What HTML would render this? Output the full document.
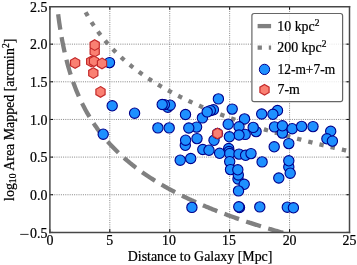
<!DOCTYPE html>
<html><head><meta charset="utf-8"><style>
html,body{margin:0;padding:0;background:#fff;overflow:hidden;width:357px;height:265px;}
svg{display:block;will-change:transform;}
text{font-family:"Liberation Serif",serif;fill:#000;stroke:#000;stroke-width:0.22px;}
</style></head><body>
<svg width="357" height="265" viewBox="0 0 357 265">
<rect width="357" height="265" fill="#fff"/>
<defs><clipPath id="ax"><rect x="49.9" y="6.5" width="299.60" height="225.90"/></clipPath></defs>
<g stroke="#858585" stroke-width="1.0" stroke-dasharray="1 1.2">
<line x1="109.82" y1="6.50" x2="109.82" y2="232.40"/>
<line x1="169.74" y1="6.50" x2="169.74" y2="232.40"/>
<line x1="229.66" y1="6.50" x2="229.66" y2="232.40"/>
<line x1="289.58" y1="6.50" x2="289.58" y2="232.40"/>
<line x1="49.90" y1="44.15" x2="349.50" y2="44.15"/>
<line x1="49.90" y1="81.80" x2="349.50" y2="81.80"/>
<line x1="49.90" y1="119.45" x2="349.50" y2="119.45"/>
<line x1="49.90" y1="157.10" x2="349.50" y2="157.10"/>
<line x1="49.90" y1="194.75" x2="349.50" y2="194.75"/>
</g>
<g clip-path="url(#ax)" fill="none" stroke="#808080" stroke-width="4.3">
<path d="M57.01,4.51 L57.75,11.04 L58.50,16.98 L59.24,22.42 L59.99,27.44 L60.74,32.11 L61.48,36.47 L62.23,40.55 L62.98,44.39 L63.72,48.02 L64.47,51.46 L65.21,54.73 L65.96,57.84 L66.71,60.81 L67.45,63.65 L68.20,66.38 L68.95,68.99 L69.69,71.50 L70.44,73.92 L71.18,76.26 L71.93,78.51 L72.68,80.69 L73.42,82.80 L74.17,84.84 L74.92,86.82 L75.66,88.75 L76.41,90.61 L77.15,92.43 L77.90,94.20 L78.65,95.92 L79.39,97.59 L80.14,99.23 L80.88,100.82 L81.63,102.38 L82.38,103.90 L83.12,105.38 L83.87,106.84 L84.62,108.26 L85.36,109.65 L86.11,111.01 L86.85,112.34 L87.60,113.65 L88.35,114.93 L89.09,116.19 L89.84,117.42 L90.59,118.64 L91.33,119.82 L92.08,120.99 L92.82,122.14 L93.57,123.27 L94.32,124.37 L95.06,125.46 L95.81,126.54 L96.56,127.59 L97.30,128.63 L98.05,129.65 L98.79,130.66 L99.54,131.65 L100.29,132.62 L101.03,133.58 L101.78,134.53 L102.53,135.46 L103.27,136.39 L104.02,137.29 L104.76,138.19 L105.51,139.07 L106.26,139.95 L107.00,140.81 L107.75,141.65 L108.49,142.49 L109.24,143.32 L109.99,144.14 L110.73,144.95 L111.48,145.74 L112.23,146.53 L112.97,147.31 L113.72,148.08 L114.46,148.84 L115.21,149.59 L115.96,150.33 L116.70,151.07 L117.45,151.79 L118.20,152.51 L118.94,153.22 L119.69,153.93 L120.43,154.62 L121.18,155.31 L121.93,155.99 L122.67,156.67 L123.42,157.33 L124.17,157.99 L124.91,158.65 L125.66,159.30 L126.40,159.94 L127.15,160.57 L127.90,161.20 L128.64,161.82 L129.39,162.44 L130.14,163.05 L130.88,163.66 L131.63,164.26 L132.37,164.85 L133.12,165.44 L133.87,166.02 L134.61,166.60 L135.36,167.18 L136.10,167.74 L136.85,168.31 L137.60,168.87 L138.34,169.42 L139.09,169.97 L139.84,170.52 L140.58,171.06 L141.33,171.59 L142.07,172.12 L142.82,172.65 L143.57,173.17 L144.31,173.69 L145.06,174.21 L145.81,174.72 L146.55,175.23 L147.30,175.73 L148.04,176.23 L148.79,176.72 L149.54,177.22 L150.28,177.70 L151.03,178.19 L151.78,178.67 L152.52,179.15 L153.27,179.62 L154.01,180.09 L154.76,180.56 L155.51,181.02 L156.25,181.48 L157.00,181.94 L157.75,182.39 L158.49,182.84 L159.24,183.29 L159.98,183.74 L160.73,184.18 L161.48,184.62 L162.22,185.05 L162.97,185.49 L163.71,185.92 L164.46,186.34 L165.21,186.77 L165.95,187.19 L166.70,187.61 L167.45,188.03 L168.19,188.44 L168.94,188.85 L169.68,189.26 L170.43,189.67 L171.18,190.07 L171.92,190.47 L172.67,190.87 L173.42,191.27 L174.16,191.66 L174.91,192.05 L175.65,192.44 L176.40,192.83 L177.15,193.21 L177.89,193.60 L178.64,193.98 L179.39,194.35 L180.13,194.73 L180.88,195.10 L181.62,195.47 L182.37,195.84 L183.12,196.21 L183.86,196.58 L184.61,196.94 L185.35,197.30 L186.10,197.66 L186.85,198.02 L187.59,198.37 L188.34,198.73 L189.09,199.08 L189.83,199.43 L190.58,199.78 L191.32,200.12 L192.07,200.47 L192.82,200.81 L193.56,201.15 L194.31,201.49 L195.06,201.83 L195.80,202.16 L196.55,202.49 L197.29,202.83 L198.04,203.16 L198.79,203.49 L199.53,203.81 L200.28,204.14 L201.03,204.46 L201.77,204.78 L202.52,205.10 L203.26,205.42 L204.01,205.74 L204.76,206.06 L205.50,206.37 L206.25,206.68 L207.00,207.00 L207.74,207.31 L208.49,207.61 L209.23,207.92 L209.98,208.23 L210.73,208.53 L211.47,208.83 L212.22,209.13 L212.96,209.43 L213.71,209.73 L214.46,210.03 L215.20,210.33 L215.95,210.62 L216.70,210.91 L217.44,211.21 L218.19,211.50 L218.93,211.79 L219.68,212.07 L220.43,212.36 L221.17,212.65 L221.92,212.93 L222.67,213.21 L223.41,213.50 L224.16,213.78 L224.90,214.06 L225.65,214.33 L226.40,214.61 L227.14,214.89 L227.89,215.16 L228.64,215.44 L229.38,215.71 L230.13,215.98 L230.87,216.25 L231.62,216.52 L232.37,216.79 L233.11,217.05 L233.86,217.32 L234.61,217.59 L235.35,217.85 L236.10,218.11 L236.84,218.37 L237.59,218.63 L238.34,218.89 L239.08,219.15 L239.83,219.41 L240.57,219.67 L241.32,219.92 L242.07,220.18 L242.81,220.43 L243.56,220.68 L244.31,220.93 L245.05,221.18 L245.80,221.43 L246.54,221.68 L247.29,221.93 L248.04,222.18 L248.78,222.42 L249.53,222.67 L250.28,222.91 L251.02,223.15 L251.77,223.40 L252.51,223.64 L253.26,223.88 L254.01,224.12 L254.75,224.36 L255.50,224.59 L256.25,224.83 L256.99,225.07 L257.74,225.30 L258.48,225.54 L259.23,225.77 L259.98,226.00 L260.72,226.24 L261.47,226.47 L262.22,226.70 L262.96,226.93 L263.71,227.15 L264.45,227.38 L265.20,227.61 L265.95,227.84 L266.69,228.06 L267.44,228.29 L268.18,228.51 L268.93,228.73 L269.68,228.96 L270.42,229.18 L271.17,229.40 L271.92,229.62 L272.66,229.84 L273.41,230.06 L274.15,230.27 L274.90,230.49 L275.65,230.71 L276.39,230.92 L277.14,231.14 L277.89,231.35 L278.63,231.57 L279.38,231.78 L280.12,231.99 L280.87,232.20 L281.62,232.42 L282.36,232.63 L283.11,232.84 L283.86,233.04 L284.60,233.25 L285.35,233.46 L286.09,233.67 L286.84,233.87 L287.59,234.08 L288.33,234.28 L289.08,234.49 L289.83,234.69 L290.57,234.90 L291.32,235.10 L292.06,235.30 L292.81,235.50 L293.56,235.70 L294.30,235.90 L295.05,236.10 L295.79,236.30 L296.54,236.50 L297.29,236.70 L298.03,236.89 L298.78,237.09 L299.53,237.29 L300.27,237.48 L301.02,237.68 L301.76,237.87 L302.51,238.06 L303.26,238.26 L304.00,238.45 L304.75,238.64 L305.50,238.83 L306.24,239.02 L306.99,239.21 L307.73,239.40 L308.48,239.59 L309.23,239.78 L309.97,239.97 L310.72,240.15 L311.47,240.34 L312.21,240.53 L312.96,240.71 L313.70,240.90 L314.45,241.08 L315.20,241.27 L315.94,241.45 L316.69,241.63 L317.44,241.82 L318.18,242.00 L318.93,242.18 L319.67,242.36 L320.42,242.54 L321.17,242.72 L321.91,242.90 L322.66,243.08 L323.40,243.26 L324.15,243.44 L324.90,243.62 L325.64,243.79 L326.39,243.97 L327.14,244.15 L327.88,244.32 L328.63,244.50 L329.37,244.67 L330.12,244.85 L330.87,245.02 L331.61,245.19 L332.36,245.37 L333.11,245.54 L333.85,245.71 L334.60,245.88 L335.34,246.05 L336.09,246.23 L336.84,246.40 L337.58,246.57 L338.33,246.74 L339.08,246.90 L339.82,247.07 L340.57,247.24 L341.31,247.41 L342.06,247.58 L342.81,247.74 L343.55,247.91 L344.30,248.08 L345.04,248.24 L345.79,248.41 L346.54,248.57 L347.28,248.73 L348.03,248.90 L348.78,249.06 L349.52,249.23 L350.27,249.39 L351.01,249.55 L351.76,249.71 L352.51,249.87 L353.25,250.03 L354.00,250.20 L354.75,250.36 L355.49,250.52" stroke-dasharray="15.5 7.62" stroke-dashoffset="13.25"/>
<path d="M81.68,4.51 L82.37,5.90 L83.05,7.27 L83.74,8.60 L84.42,9.91 L85.10,11.20 L85.79,12.46 L86.47,13.69 L87.16,14.91 L87.84,16.10 L88.53,17.27 L89.21,18.41 L89.90,19.54 L90.58,20.65 L91.26,21.75 L91.95,22.82 L92.63,23.87 L93.32,24.91 L94.00,25.94 L94.69,26.94 L95.37,27.94 L96.06,28.91 L96.74,29.88 L97.43,30.83 L98.11,31.76 L98.79,32.68 L99.48,33.59 L100.16,34.49 L100.85,35.37 L101.53,36.25 L102.22,37.11 L102.90,37.96 L103.59,38.80 L104.27,39.63 L104.96,40.44 L105.64,41.25 L106.32,42.05 L107.01,42.84 L107.69,43.62 L108.38,44.39 L109.06,45.15 L109.75,45.90 L110.43,46.65 L111.12,47.38 L111.80,48.11 L112.49,48.83 L113.17,49.54 L113.85,50.24 L114.54,50.94 L115.22,51.63 L115.91,52.31 L116.59,52.99 L117.28,53.65 L117.96,54.32 L118.65,54.97 L119.33,55.62 L120.01,56.26 L120.70,56.89 L121.38,57.52 L122.07,58.15 L122.75,58.77 L123.44,59.38 L124.12,59.98 L124.81,60.58 L125.49,61.18 L126.18,61.77 L126.86,62.35 L127.54,62.93 L128.23,63.51 L128.91,64.07 L129.60,64.64 L130.28,65.20 L130.97,65.75 L131.65,66.30 L132.34,66.85 L133.02,67.39 L133.71,67.93 L134.39,68.46 L135.07,68.99 L135.76,69.51 L136.44,70.03 L137.13,70.54 L137.81,71.05 L138.50,71.56 L139.18,72.07 L139.87,72.56 L140.55,73.06 L141.24,73.55 L141.92,74.04 L142.60,74.53 L143.29,75.01 L143.97,75.48 L144.66,75.96 L145.34,76.43 L146.03,76.90 L146.71,77.36 L147.40,77.82 L148.08,78.28 L148.77,78.73 L149.45,79.19 L150.13,79.63 L150.82,80.08 L151.50,80.52 L152.19,80.96 L152.87,81.40 L153.56,81.83 L154.24,82.26 L154.93,82.69 L155.61,83.11 L156.29,83.53 L156.98,83.95 L157.66,84.37 L158.35,84.79 L159.03,85.20 L159.72,85.61 L160.40,86.01 L161.09,86.42 L161.77,86.82 L162.46,87.22 L163.14,87.61 L163.82,88.01 L164.51,88.40 L165.19,88.79 L165.88,89.18 L166.56,89.56 L167.25,89.94 L167.93,90.32 L168.62,90.70 L169.30,91.08 L169.99,91.45 L170.67,91.82 L171.35,92.19 L172.04,92.56 L172.72,92.93 L173.41,93.29 L174.09,93.65 L174.78,94.01 L175.46,94.37 L176.15,94.72 L176.83,95.08 L177.52,95.43 L178.20,95.78 L178.88,96.13 L179.57,96.47 L180.25,96.82 L180.94,97.16 L181.62,97.50 L182.31,97.84 L182.99,98.18 L183.68,98.51 L184.36,98.85 L185.04,99.18 L185.73,99.51 L186.41,99.84 L187.10,100.17 L187.78,100.49 L188.47,100.81 L189.15,101.14 L189.84,101.46 L190.52,101.78 L191.21,102.09 L191.89,102.41 L192.57,102.73 L193.26,103.04 L193.94,103.35 L194.63,103.66 L195.31,103.97 L196.00,104.28 L196.68,104.58 L197.37,104.89 L198.05,105.19 L198.74,105.49 L199.42,105.79 L200.10,106.09 L200.79,106.39 L201.47,106.68 L202.16,106.98 L202.84,107.27 L203.53,107.56 L204.21,107.85 L204.90,108.14 L205.58,108.43 L206.27,108.72 L206.95,109.00 L207.63,109.29 L208.32,109.57 L209.00,109.85 L209.69,110.13 L210.37,110.41 L211.06,110.69 L211.74,110.97 L212.43,111.25 L213.11,111.52 L213.80,111.79 L214.48,112.07 L215.16,112.34 L215.85,112.61 L216.53,112.88 L217.22,113.15 L217.90,113.41 L218.59,113.68 L219.27,113.94 L219.96,114.21 L220.64,114.47 L221.32,114.73 L222.01,114.99 L222.69,115.25 L223.38,115.51 L224.06,115.77 L224.75,116.02 L225.43,116.28 L226.12,116.54 L226.80,116.79 L227.49,117.04 L228.17,117.29 L228.85,117.54 L229.54,117.79 L230.22,118.04 L230.91,118.29 L231.59,118.54 L232.28,118.78 L232.96,119.03 L233.65,119.27 L234.33,119.52 L235.02,119.76 L235.70,120.00 L236.38,120.24 L237.07,120.48 L237.75,120.72 L238.44,120.96 L239.12,121.19 L239.81,121.43 L240.49,121.66 L241.18,121.90 L241.86,122.13 L242.55,122.37 L243.23,122.60 L243.91,122.83 L244.60,123.06 L245.28,123.29 L245.97,123.52 L246.65,123.74 L247.34,123.97 L248.02,124.20 L248.71,124.42 L249.39,124.65 L250.07,124.87 L250.76,125.10 L251.44,125.32 L252.13,125.54 L252.81,125.76 L253.50,125.98 L254.18,126.20 L254.87,126.42 L255.55,126.64 L256.24,126.86 L256.92,127.07 L257.60,127.29 L258.29,127.50 L258.97,127.72 L259.66,127.93 L260.34,128.14 L261.03,128.36 L261.71,128.57 L262.40,128.78 L263.08,128.99 L263.77,129.20 L264.45,129.41 L265.13,129.62 L265.82,129.82 L266.50,130.03 L267.19,130.24 L267.87,130.44 L268.56,130.65 L269.24,130.85 L269.93,131.06 L270.61,131.26 L271.30,131.46 L271.98,131.66 L272.66,131.87 L273.35,132.07 L274.03,132.27 L274.72,132.47 L275.40,132.67 L276.09,132.86 L276.77,133.06 L277.46,133.26 L278.14,133.45 L278.83,133.65 L279.51,133.85 L280.19,134.04 L280.88,134.23 L281.56,134.43 L282.25,134.62 L282.93,134.81 L283.62,135.01 L284.30,135.20 L284.99,135.39 L285.67,135.58 L286.35,135.77 L287.04,135.96 L287.72,136.14 L288.41,136.33 L289.09,136.52 L289.78,136.71 L290.46,136.89 L291.15,137.08 L291.83,137.26 L292.52,137.45 L293.20,137.63 L293.88,137.82 L294.57,138.00 L295.25,138.18 L295.94,138.37 L296.62,138.55 L297.31,138.73 L297.99,138.91 L298.68,139.09 L299.36,139.27 L300.05,139.45 L300.73,139.63 L301.41,139.81 L302.10,139.98 L302.78,140.16 L303.47,140.34 L304.15,140.51 L304.84,140.69 L305.52,140.86 L306.21,141.04 L306.89,141.21 L307.58,141.39 L308.26,141.56 L308.94,141.73 L309.63,141.91 L310.31,142.08 L311.00,142.25 L311.68,142.42 L312.37,142.59 L313.05,142.76 L313.74,142.93 L314.42,143.10 L315.10,143.27 L315.79,143.44 L316.47,143.61 L317.16,143.78 L317.84,143.94 L318.53,144.11 L319.21,144.28 L319.90,144.44 L320.58,144.61 L321.27,144.77 L321.95,144.94 L322.63,145.10 L323.32,145.27 L324.00,145.43 L324.69,145.59 L325.37,145.76 L326.06,145.92 L326.74,146.08 L327.43,146.24 L328.11,146.40 L328.80,146.56 L329.48,146.72 L330.16,146.88 L330.85,147.04 L331.53,147.20 L332.22,147.36 L332.90,147.52 L333.59,147.68 L334.27,147.84 L334.96,147.99 L335.64,148.15 L336.33,148.31 L337.01,148.46 L337.69,148.62 L338.38,148.77 L339.06,148.93 L339.75,149.08 L340.43,149.24 L341.12,149.39 L341.80,149.55 L342.49,149.70 L343.17,149.85 L343.86,150.00 L344.54,150.16 L345.22,150.31 L345.91,150.46 L346.59,150.61 L347.28,150.76 L347.96,150.91 L348.65,151.06 L349.33,151.21 L350.02,151.36 L350.70,151.51 L351.38,151.66 L352.07,151.81 L352.75,151.95 L353.44,152.10 L354.12,152.25 L354.81,152.40 L355.49,152.54" stroke-dasharray="4.35 7.166" stroke-dashoffset="2.876"/>
</g>
<g clip-path="url(#ax)">
<g fill="#1e90ff" stroke="#00008b" stroke-width="1.1">
<circle cx="109.5" cy="62.6" r="5.15"/>
<circle cx="112.2" cy="105.8" r="5.15"/>
<circle cx="134.6" cy="113.2" r="5.15"/>
<circle cx="103.2" cy="134.2" r="5.15"/>
<circle cx="157.9" cy="127.9" r="5.15"/>
<circle cx="169.2" cy="127.9" r="5.15"/>
<circle cx="167.8" cy="107.2" r="5.15"/>
<circle cx="170.2" cy="105.2" r="5.15"/>
<circle cx="164.4" cy="104.6" r="5.15"/>
<circle cx="162.2" cy="104.5" r="5.15"/>
<circle cx="185.5" cy="114.5" r="5.15"/>
<circle cx="196.6" cy="127.1" r="5.15"/>
<circle cx="188.8" cy="128.0" r="5.15"/>
<circle cx="202.4" cy="117.9" r="5.15"/>
<circle cx="213.4" cy="109.8" r="5.15"/>
<circle cx="210.3" cy="110.6" r="5.15"/>
<circle cx="207.2" cy="111.9" r="5.15"/>
<circle cx="218.4" cy="98.9" r="5.15"/>
<circle cx="232.2" cy="109.1" r="5.15"/>
<circle cx="244.5" cy="118.9" r="5.15"/>
<circle cx="228.2" cy="124.2" r="5.15"/>
<circle cx="239" cy="126.8" r="5.15"/>
<circle cx="256.1" cy="131.6" r="5.15"/>
<circle cx="253.2" cy="127.4" r="5.15"/>
<circle cx="261.7" cy="114" r="5.15"/>
<circle cx="277.5" cy="110.5" r="5.15"/>
<circle cx="272.9" cy="114.3" r="5.15"/>
<circle cx="274.5" cy="126.9" r="5.15"/>
<circle cx="282.4" cy="133.1" r="5.15"/>
<circle cx="282.4" cy="125.8" r="5.15"/>
<circle cx="292.2" cy="128.7" r="5.15"/>
<circle cx="301.6" cy="126.4" r="5.15"/>
<circle cx="313" cy="126.6" r="5.15"/>
<circle cx="330.7" cy="131.3" r="5.15"/>
<circle cx="326.9" cy="138.8" r="5.15"/>
<circle cx="332.4" cy="141.1" r="5.15"/>
<circle cx="288.8" cy="143.6" r="5.15"/>
<circle cx="274.2" cy="146.8" r="5.15"/>
<circle cx="262.1" cy="161.9" r="5.15"/>
<circle cx="288.8" cy="167" r="5.15"/>
<circle cx="288.8" cy="160.8" r="5.15"/>
<circle cx="290.2" cy="173.2" r="5.15"/>
<circle cx="278.8" cy="178.0" r="5.15"/>
<circle cx="245.2" cy="134.4" r="5.15"/>
<circle cx="239" cy="135" r="5.15"/>
<circle cx="229.4" cy="136.8" r="5.15"/>
<circle cx="228.7" cy="148.5" r="5.15"/>
<circle cx="229" cy="151.5" r="5.15"/>
<circle cx="229.7" cy="153.5" r="5.15"/>
<circle cx="219.6" cy="153.3" r="5.15"/>
<circle cx="239" cy="154.1" r="5.15"/>
<circle cx="245.6" cy="155.3" r="5.15"/>
<circle cx="251" cy="153.6" r="5.15"/>
<circle cx="229.7" cy="161.6" r="5.15"/>
<circle cx="230.5" cy="169.6" r="5.15"/>
<circle cx="238" cy="179.0" r="5.15"/>
<circle cx="238.3" cy="175.0" r="5.15"/>
<circle cx="237.8" cy="169.8" r="5.15"/>
<circle cx="244.2" cy="184.3" r="5.15"/>
<circle cx="238.5" cy="190.9" r="5.15"/>
<circle cx="239.5" cy="207.5" r="5.15"/>
<circle cx="238.8" cy="206.8" r="5.15"/>
<circle cx="259.8" cy="206.9" r="5.15"/>
<circle cx="287.3" cy="207.2" r="5.15"/>
<circle cx="293.4" cy="207.8" r="5.15"/>
<circle cx="191.9" cy="207.4" r="5.15"/>
<circle cx="214" cy="140.3" r="5.15"/>
<circle cx="185.3" cy="145.3" r="5.15"/>
<circle cx="185.6" cy="140.2" r="5.15"/>
<circle cx="197" cy="138.6" r="5.15"/>
<circle cx="180.2" cy="160.2" r="5.15"/>
<circle cx="190.7" cy="158.5" r="5.15"/>
<circle cx="202.8" cy="149.5" r="5.15"/>
<circle cx="209" cy="150.2" r="5.15"/>
<circle cx="217.5" cy="133.5" r="5.15"/>
</g>
<g fill="#fa8072" stroke="#c42a2a" stroke-width="1.2">
<path d="M75.10,57.70 L79.69,60.35 L79.69,65.65 L75.10,68.30 L70.51,65.65 L70.51,60.35Z"/>
<path d="M94.70,46.30 L99.29,48.95 L99.29,54.25 L94.70,56.90 L90.11,54.25 L90.11,48.95Z"/>
<path d="M94.70,39.80 L99.29,42.45 L99.29,47.75 L94.70,50.40 L90.11,47.75 L90.11,42.45Z"/>
<path d="M91.20,56.20 L95.79,58.85 L95.79,64.15 L91.20,66.80 L86.61,64.15 L86.61,58.85Z"/>
<path d="M94.00,55.90 L98.59,58.55 L98.59,63.85 L94.00,66.50 L89.41,63.85 L89.41,58.55Z"/>
<path d="M102.00,58.10 L106.59,60.75 L106.59,66.05 L102.00,68.70 L97.41,66.05 L97.41,60.75Z"/>
<path d="M93.30,67.80 L97.89,70.45 L97.89,75.75 L93.30,78.40 L88.71,75.75 L88.71,70.45Z"/>
<path d="M100.50,86.60 L105.09,89.25 L105.09,94.55 L100.50,97.20 L95.91,94.55 L95.91,89.25Z"/>
<path d="M217.50,128.20 L222.09,130.85 L222.09,136.15 L217.50,138.80 L212.91,136.15 L212.91,130.85Z"/>
</g>
</g>
<g stroke="#000" stroke-width="1">
<line x1="49.90" y1="232.40" x2="49.90" y2="229.20"/>
<line x1="49.90" y1="6.50" x2="49.90" y2="9.70"/>
<line x1="109.82" y1="232.40" x2="109.82" y2="229.20"/>
<line x1="109.82" y1="6.50" x2="109.82" y2="9.70"/>
<line x1="169.74" y1="232.40" x2="169.74" y2="229.20"/>
<line x1="169.74" y1="6.50" x2="169.74" y2="9.70"/>
<line x1="229.66" y1="232.40" x2="229.66" y2="229.20"/>
<line x1="229.66" y1="6.50" x2="229.66" y2="9.70"/>
<line x1="289.58" y1="232.40" x2="289.58" y2="229.20"/>
<line x1="289.58" y1="6.50" x2="289.58" y2="9.70"/>
<line x1="349.50" y1="232.40" x2="349.50" y2="229.20"/>
<line x1="349.50" y1="6.50" x2="349.50" y2="9.70"/>
<line x1="49.90" y1="6.50" x2="53.10" y2="6.50"/>
<line x1="349.50" y1="6.50" x2="346.30" y2="6.50"/>
<line x1="49.90" y1="44.15" x2="53.10" y2="44.15"/>
<line x1="349.50" y1="44.15" x2="346.30" y2="44.15"/>
<line x1="49.90" y1="81.80" x2="53.10" y2="81.80"/>
<line x1="349.50" y1="81.80" x2="346.30" y2="81.80"/>
<line x1="49.90" y1="119.45" x2="53.10" y2="119.45"/>
<line x1="349.50" y1="119.45" x2="346.30" y2="119.45"/>
<line x1="49.90" y1="157.10" x2="53.10" y2="157.10"/>
<line x1="349.50" y1="157.10" x2="346.30" y2="157.10"/>
<line x1="49.90" y1="194.75" x2="53.10" y2="194.75"/>
<line x1="349.50" y1="194.75" x2="346.30" y2="194.75"/>
<line x1="49.90" y1="232.40" x2="53.10" y2="232.40"/>
<line x1="349.50" y1="232.40" x2="346.30" y2="232.40"/>
</g>
<g stroke="#474747" fill="none" stroke-width="1.5">
<line x1="49.15" y1="6.7" x2="350.25" y2="6.7"/>
<line x1="49.15" y1="232.4" x2="350.25" y2="232.4"/>
<line x1="49.9" y1="5.95" x2="49.9" y2="233.15"/>
<line x1="349.5" y1="5.95" x2="349.5" y2="233.15"/>
</g>

<rect x="251.9" y="13.5" width="90.7" height="88.2" rx="2.2" ry="2.2" fill="#fff" fill-opacity="0.8" stroke="#666" stroke-width="1.2"/>
<line x1="257.6" y1="26.1" x2="271.1" y2="26.1" stroke="#808080" stroke-width="4.3"/>
<line x1="257.6" y1="47.6" x2="271.1" y2="47.6" stroke="#808080" stroke-width="4.3" stroke-dasharray="4.3 6.9"/>
<circle cx="264.5" cy="69.4" r="5.15" fill="#1e90ff" stroke="#00008b" stroke-width="1"/>
<path d="M264.50,84.50 L269.09,87.15 L269.09,92.45 L264.50,95.10 L259.91,92.45 L259.91,87.15Z" fill="#fa8072" stroke="#c42a2a" stroke-width="1.2"/>
<g font-size="13.9">
<text x="277.3" y="30.8">10 kpc<tspan font-size="9.5" dy="-5">2</tspan></text>
<text x="277.3" y="52.2">200 kpc<tspan font-size="9.5" dy="-5">2</tspan></text>
<text x="277.5" y="73.6" textLength="57.6" lengthAdjust="spacingAndGlyphs">12-m+7-m</text>
<text x="277.5" y="94.2">7-m</text>
</g>

<g font-size="13.9">
<text x="49.90" y="244.7" text-anchor="middle">0</text>
<text x="109.82" y="244.7" text-anchor="middle">5</text>
<text x="169.04" y="244.7" text-anchor="middle">10</text>
<text x="228.96" y="244.7" text-anchor="middle">15</text>
<text x="289.58" y="244.7" text-anchor="middle">20</text>
<text x="349.50" y="244.7" text-anchor="middle">25</text>
<text x="47.4" y="11.80" text-anchor="end">2.5</text>
<text x="47.4" y="49.45" text-anchor="end">2.0</text>
<text x="47.4" y="87.10" text-anchor="end">1.5</text>
<text x="47.4" y="124.75" text-anchor="end">1.0</text>
<text x="47.4" y="162.40" text-anchor="end">0.5</text>
<text x="47.4" y="200.05" text-anchor="end">0.0</text>
<line x1="20.2" y1="234.40" x2="28.6" y2="234.40" stroke="#000" stroke-width="0.8"/>
<text x="47.4" y="237.70" text-anchor="end">0.5</text>
<text x="200.1" y="260.6" text-anchor="middle">Distance to Galaxy [Mpc]</text>
<text transform="translate(14,200.9) rotate(-90)" text-anchor="start">log<tspan font-size="9.7" dy="1.8">10</tspan><tspan dy="-1.8"> Area Mapped [arcmin</tspan><tspan font-size="9.7" dy="-4.6">2</tspan><tspan dy="4.6">]</tspan></text>
</g>
</svg>
</body></html>
